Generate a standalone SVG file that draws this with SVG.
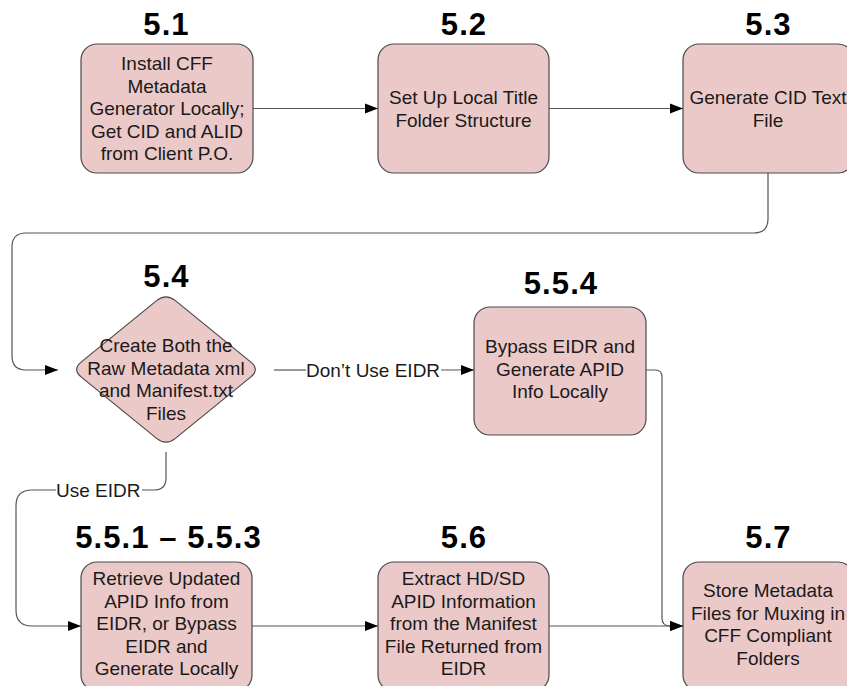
<svg xmlns="http://www.w3.org/2000/svg" width="847" height="686" viewBox="0 0 847 686">
<defs>
<style>
.box{fill:#ecc9c9;stroke:#4a4a4a;stroke-width:1.2}
.t{font-family:"Liberation Sans",Arial,sans-serif;font-size:19px;fill:#1a1a1a;text-anchor:middle}
.h{font-family:"Liberation Sans",Arial,sans-serif;font-size:31px;font-weight:bold;fill:#000;text-anchor:middle;letter-spacing:1.1px}
.c{fill:none;stroke:#555;stroke-width:1.2}
.lbl{font-family:"Liberation Sans",Arial,sans-serif;font-size:19px;fill:#1a1a1a}
</style>
<marker id="arr" markerWidth="14" markerHeight="12" refX="13" refY="6" orient="auto" markerUnits="userSpaceOnUse">
<path d="M0,1 L13,6 L0,11 Z" fill="#000"/>
</marker>
</defs>
<rect width="847" height="686" fill="#fff"/>

<g id="connectors">
<path class="c" d="M253,108.5 H378" marker-end="url(#arr)"/>
<path class="c" d="M549,108.5 H683" marker-end="url(#arr)"/>
<path class="c" d="M768,173 V219 Q768,233 754,233 H26 Q12,233 12,247 V356 Q12,370 26,370 H58" marker-end="url(#arr)"/>
<path class="c" d="M274,370 H306"/>
<text class="lbl" x="306" y="376.5">Don’t Use EIDR</text>
<path class="c" d="M441,370 H474" marker-end="url(#arr)"/>
<path class="c" d="M646,370 H655 Q662,370 662,377 V618 Q662,626 670,626 H683" marker-end="url(#arr)"/>
<path class="c" d="M166,452 V478 Q166,490 154,490 H142"/>
<text class="lbl" x="56" y="496.5">Use EIDR</text>
<path class="c" d="M56,490 H32 Q16,490 16,506 V610 Q16,626 32,626 H81" marker-end="url(#arr)"/>
<path class="c" d="M252,626 H378" marker-end="url(#arr)"/>
<path class="c" d="M549,626 H683" marker-end="url(#arr)"/>
</g>

<g id="n51">
<text class="h" x="166.5" y="35">5.1</text>
<rect class="box" x="81" y="44" width="172" height="129" rx="16"/>
<text class="t" x="167" y="70">Install CFF</text>
<text class="t" x="167" y="92.5">Metadata</text>
<text class="t" x="167" y="115">Generator Locally;</text>
<text class="t" x="167" y="137.5">Get CID and ALID</text>
<text class="t" x="167" y="160">from Client P.O.</text>
</g>

<g id="n52">
<text class="h" x="464" y="35">5.2</text>
<rect class="box" x="378" y="44" width="171" height="129" rx="16"/>
<text class="t" x="463.5" y="104">Set Up Local Title</text>
<text class="t" x="463.5" y="126.5">Folder Structure</text>
</g>

<g id="n53">
<text class="h" x="768.5" y="35">5.3</text>
<rect class="box" x="683" y="44" width="171" height="129" rx="16"/>
<text class="t" x="768" y="104">Generate CID Text</text>
<text class="t" x="768" y="126.5">File</text>
</g>

<g id="n54">
<text class="h" x="166.5" y="287">5.4</text>
<path class="box" d="M175.4,300.65 L250.6,361.850 Q260,369.5 250.6,377.15 L175.4,438.35 Q166,446 156.6,438.35 L81.4,377.15 Q72,369.5 81.4,361.85 L156.6,300.65 Q166,293 175.4,300.65 Z"/>
<text class="t" x="166" y="352">Create Both the</text>
<text class="t" x="166" y="374.5">Raw Metadata xml</text>
<text class="t" x="166" y="397">and Manifest.txt</text>
<text class="t" x="166" y="419.5">Files</text>
</g>

<g id="n554">
<text class="h" x="561" y="294">5.5.4</text>
<rect class="box" x="474" y="307" width="172" height="128" rx="16"/>
<text class="t" x="560" y="353">Bypass EIDR and</text>
<text class="t" x="560" y="375.5">Generate APID</text>
<text class="t" x="560" y="398">Info Locally</text>
</g>

<g id="n551">
<text class="h" x="168.5" y="548">5.5.1 – 5.5.3</text>
<rect class="box" x="81" y="562" width="171" height="129" rx="16"/>
<text class="t" x="166.5" y="585">Retrieve Updated</text>
<text class="t" x="166.5" y="607.5">APID Info from</text>
<text class="t" x="166.5" y="630">EIDR, or Bypass</text>
<text class="t" x="166.5" y="652.5">EIDR and</text>
<text class="t" x="166.5" y="675">Generate Locally</text>
</g>

<g id="n56">
<text class="h" x="464" y="548">5.6</text>
<rect class="box" x="378" y="562" width="171" height="129" rx="16"/>
<text class="t" x="463.5" y="585">Extract HD/SD</text>
<text class="t" x="463.5" y="607.5">APID Information</text>
<text class="t" x="463.5" y="630">from the Manifest</text>
<text class="t" x="463.5" y="652.5">File Returned from</text>
<text class="t" x="463.5" y="675">EIDR</text>
</g>

<g id="n57">
<text class="h" x="768.5" y="548">5.7</text>
<rect class="box" x="683" y="562" width="171" height="129" rx="16"/>
<text class="t" x="768" y="597">Store Metadata</text>
<text class="t" x="768" y="619.5">Files for Muxing in</text>
<text class="t" x="768" y="642">CFF Compliant</text>
<text class="t" x="768" y="664.5">Folders</text>
</g>
</svg>
